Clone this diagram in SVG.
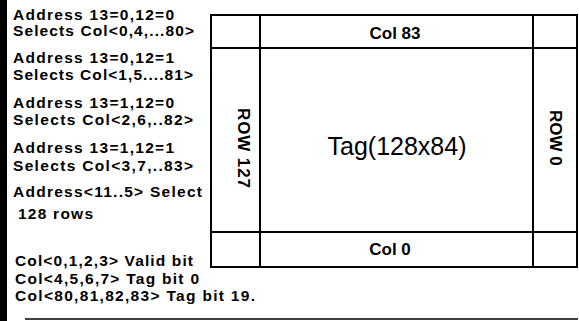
<svg xmlns="http://www.w3.org/2000/svg" width="579" height="321" viewBox="0 0 579 321">
<style>
.t{font-family:"Liberation Sans",Arial,sans-serif;font-weight:bold;font-size:15.5px;fill:#000}
.b{font-family:"Liberation Sans",Arial,sans-serif;font-weight:bold;font-size:17px;fill:#000}
.big{font-family:"Liberation Sans",Arial,sans-serif;font-size:25px;fill:#000}
.ln{stroke:#000;stroke-width:2;fill:none}
</style>
<rect width="579" height="321" fill="#fff"/>
<rect x="0" y="0" width="7" height="321" fill="#000"/>
<g id="notes">
<text class="t" x="13" y="20" textLength="161" lengthAdjust="spacing">Address 13=0,12=0</text>
<text class="t" x="13" y="36" textLength="181" lengthAdjust="spacing">Selects Col&lt;0,4,...80&gt;</text>
<text class="t" x="13" y="63" textLength="161" lengthAdjust="spacing">Address 13=0,12=1</text>
<text class="t" x="13" y="80" textLength="180" lengthAdjust="spacing">Selects Col&lt;1,5....81&gt;</text>
<text class="t" x="13" y="108" textLength="161" lengthAdjust="spacing">Address 13=1,12=0</text>
<text class="t" x="13" y="125" textLength="180" lengthAdjust="spacing">Selects Col&lt;2,6,..82&gt;</text>
<text class="t" x="13" y="153" textLength="161" lengthAdjust="spacing">Address 13=1,12=1</text>
<text class="t" x="13" y="171" textLength="180" lengthAdjust="spacing">Selects Col&lt;3,7,..83&gt;</text>
<text class="t" x="13" y="197" textLength="189" lengthAdjust="spacing">Address&lt;11..5&gt; Select</text>
<text class="t" x="18" y="219" textLength="75" lengthAdjust="spacing">128 rows</text>
<text class="t" x="15" y="266" textLength="178" lengthAdjust="spacing">Col&lt;0,1,2,3&gt; Valid bit</text>
<text class="t" x="15" y="284" textLength="184" lengthAdjust="spacing">Col&lt;4,5,6,7&gt; Tag bit 0</text>
<text class="t" x="15" y="301" textLength="240" lengthAdjust="spacing">Col&lt;80,81,82,83&gt; Tag bit 19.</text>
</g>
<g id="tag-array">
<rect class="ln" x="211" y="15" width="366" height="252"/>
<line class="ln" x1="211" y1="48" x2="577" y2="48"/>
<line class="ln" x1="211" y1="232" x2="577" y2="232"/>
<line class="ln" x1="260" y1="15" x2="260" y2="268"/>
<line class="ln" x1="533" y1="15" x2="533" y2="268"/>
</g>
<g id="col83"><text class="b" x="395" y="39" text-anchor="middle">Col 83</text></g>
<g id="col0"><text class="b" x="390" y="255" text-anchor="middle">Col 0</text></g>
<g id="row127"><text class="b" transform="translate(238,108) rotate(90)" font-size="18" textLength="80" lengthAdjust="spacing">ROW 127</text></g>
<g id="row0"><text class="b" transform="translate(550,110) rotate(90)" font-size="18">ROW 0</text></g>
<g id="tag"><text class="big" x="397" y="155" text-anchor="middle">Tag(128x84)</text></g>
<g id="connectors">
<line x1="25" y1="319" x2="578" y2="319" stroke="#000" stroke-width="1.5"/>
</g>
</svg>
